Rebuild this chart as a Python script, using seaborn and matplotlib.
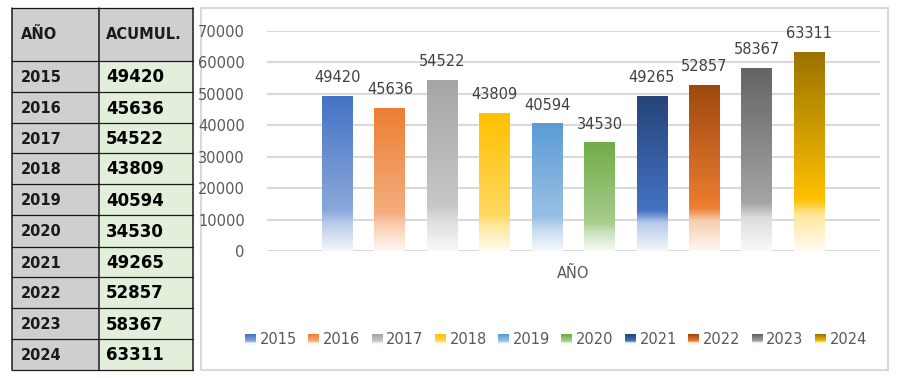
import numpy as np
import pandas as pd
import matplotlib
matplotlib.use("Agg")
import matplotlib.pyplot as plt
import matplotlib.colors as mcolors
from matplotlib.patches import Rectangle
from matplotlib.legend_handler import HandlerBase
import seaborn as sns

# ---------------- data ----------------
years = ["2015", "2016", "2017", "2018", "2019", "2020", "2021", "2022", "2023", "2024"]
values = [49420, 45636, 54522, 43809, 40594, 34530, 49265, 52857, 58367, 63311]
top_colors = ["#4472c4", "#ed7d31", "#a5a5a5", "#ffc000", "#5b9bd5", "#70ad47",
              "#264478", "#9e480e", "#636363", "#997300"]
base_colors = ["#4472c4", "#ed7d31", "#a5a5a5", "#ffc000", "#5b9bd5", "#70ad47",
               "#4472c4", "#ed7d31", "#a5a5a5", "#ffc000"]
y_ticks = [0, 10000, 20000, 30000, 40000, 50000, 60000, 70000]
header = ["AÑO", "ACUMUL."]
x_title = "AÑO"

W, H = 904, 378
sns.set_theme(style="white")
plt.rcParams["font.family"] = ["DejaVu Sans"]

fig = plt.figure(figsize=(W / 100, H / 100), dpi=100)
fig.patch.set_facecolor("white")


def mix(c, w):
    c = np.array(mcolors.to_rgb(c))
    return c * (1 - w) + np.ones(3) * w


def stops_for(i):
    top = np.array(mcolors.to_rgb(top_colors[i]))
    base = base_colors[i]
    if i < 6:
        mid = mix(top_colors[i], 0.38)
    else:
        mid = np.array(mcolors.to_rgb(base))
    return [(0.0, top), (0.74, mid), (0.82, mix(base, 0.62)), (1.0, mix(base, 0.94))]


def sample(stops, n):
    ts = np.linspace(0, 1, n)
    pos = [s[0] for s in stops]
    cols = np.array([s[1] for s in stops])
    out = np.zeros((n, 3))
    for k in range(3):
        out[:, k] = np.interp(ts, pos, cols[:, k])
    return out


# ---------------- background axes: table + chart frame ----------------
bg = fig.add_axes([0, 0, 1, 1])
bg.set_xlim(0, W)
bg.set_ylim(H, 0)
bg.axis("off")

tx0, tmid, tx1 = 12, 99, 193
row_edges = [8, 61, 92, 123, 153, 184, 215, 247, 277, 308, 339, 370]
bg.add_patch(Rectangle((tx0, row_edges[0]), tx1 - tx0, row_edges[1] - row_edges[0],
                       fc="#d0cece", ec="none"))
for r in range(len(years)):
    y0, y1 = row_edges[r + 1], row_edges[r + 2]
    bg.add_patch(Rectangle((tx0, y0), tmid - tx0, y1 - y0, fc="#d0cece", ec="none"))
    bg.add_patch(Rectangle((tmid, y0), tx1 - tmid, y1 - y0, fc="#e2efda", ec="none"))
    bg.text(21, (y0 + y1) / 2 + 1, years[r], fontsize=10.5, fontweight="bold",
            color="#1a1a1a", va="center", ha="left")
    bg.text(106, (y0 + y1) / 2 + 1, f"{values[r]}", fontsize=12, fontweight="bold",
            color="#000000", va="center", ha="left")
bg.text(21, (row_edges[0] + row_edges[1]) / 2, header[0], fontsize=10.5,
        fontweight="bold", color="#1a1a1a", va="center", ha="left")
bg.text(106, (row_edges[0] + row_edges[1]) / 2, header[1], fontsize=10.5,
        fontweight="bold", color="#1a1a1a", va="center", ha="left")
for ye in row_edges:
    bg.plot([tx0, tx1], [ye, ye], color="#1a1a1a", lw=0.9)
for xe in (tx0, tmid, tx1):
    bg.plot([xe, xe], [row_edges[0], row_edges[-1]], color="#1a1a1a", lw=1.1)

# chart frame
bg.add_patch(Rectangle((201, 8), 888 - 201, 370 - 8, fc="white", ec="#d9d9d9", lw=1.5))

# ---------------- chart ----------------
ax = fig.add_axes([267 / W, (H - 251) / H, (880 - 267) / W, 220 / H])
ax.set_facecolor("none")
df = pd.DataFrame({"year": years, "value": values})
sns.barplot(data=df, x="year", y="value", hue="year", palette=top_colors,
            legend=False, width=0.59, ax=ax, saturation=1)

xl = (-1.345, 10.35)
for i, p in enumerate(ax.patches):
    x0 = p.get_x()
    w = p.get_width()
    h = p.get_height()
    grad = sample(stops_for(i), 200).reshape(200, 1, 3)
    im = ax.imshow(grad, extent=(x0, x0 + w, 0, h), origin="upper",
                   aspect="auto", zorder=2, interpolation="bilinear")
    im.set_clip_path(p)
    p.set_facecolor("none")
    p.set_edgecolor("none")

for i, v in enumerate(values):
    ax.annotate(f"{v}", (i, v), xytext=(0, 10), textcoords="offset points",
                ha="center", va="baseline", fontsize=10.5, color="#404040", zorder=3)

ax.set_xlim(*xl)
ax.set_ylim(0, 70000)
ax.set_yticks(y_ticks)
ax.set_yticklabels([str(t) for t in y_ticks], fontsize=10.5, color="#595959")
ax.tick_params(axis="y", length=0, pad=16)
ax.set_xticks([])
ax.set_xlabel("")
ax.set_ylabel("")
for s in ax.spines.values():
    s.set_visible(False)
ax.yaxis.grid(True, color="#d9d9d9", lw=1.5)
ax.set_axisbelow(True)

fig.text(573 / W, 1 - 273 / H, x_title, ha="center", va="center",
         fontsize=10.5, color="#595959")


# ---------------- legend ----------------
class GradHandler(HandlerBase):
    def __init__(self, cols):
        super().__init__()
        self.cols = cols

    def create_artists(self, legend, orig_handle, xdescent, ydescent, width,
                       height, fontsize, trans):
        n = len(self.cols)
        arts = []
        for k, c in enumerate(self.cols):
            y = -ydescent + height * (1 - (k + 1) / n)
            arts.append(Rectangle((-xdescent, y), width, height / n + 0.01,
                                  fc=c, ec="none", transform=trans))
        return arts


handles = []
hmap = {}
for i, yr in enumerate(years):
    hdl = Rectangle((0, 0), 1, 1, fc=top_colors[i])
    handles.append(hdl)
    hmap[hdl] = GradHandler(sample(stops_for(i), 10))

leg = fig.legend(handles, years, handler_map=hmap, loc="center",
                 bbox_to_anchor=(556 / W, 1 - 340 / H), ncol=10, frameon=False,
                 fontsize=10.5, handlelength=0.75, handleheight=0.7,
                 handletextpad=0.25, columnspacing=0.78, borderpad=0)
for t in leg.get_texts():
    t.set_color("#595959")

fig.savefig("out.png", dpi=100)
